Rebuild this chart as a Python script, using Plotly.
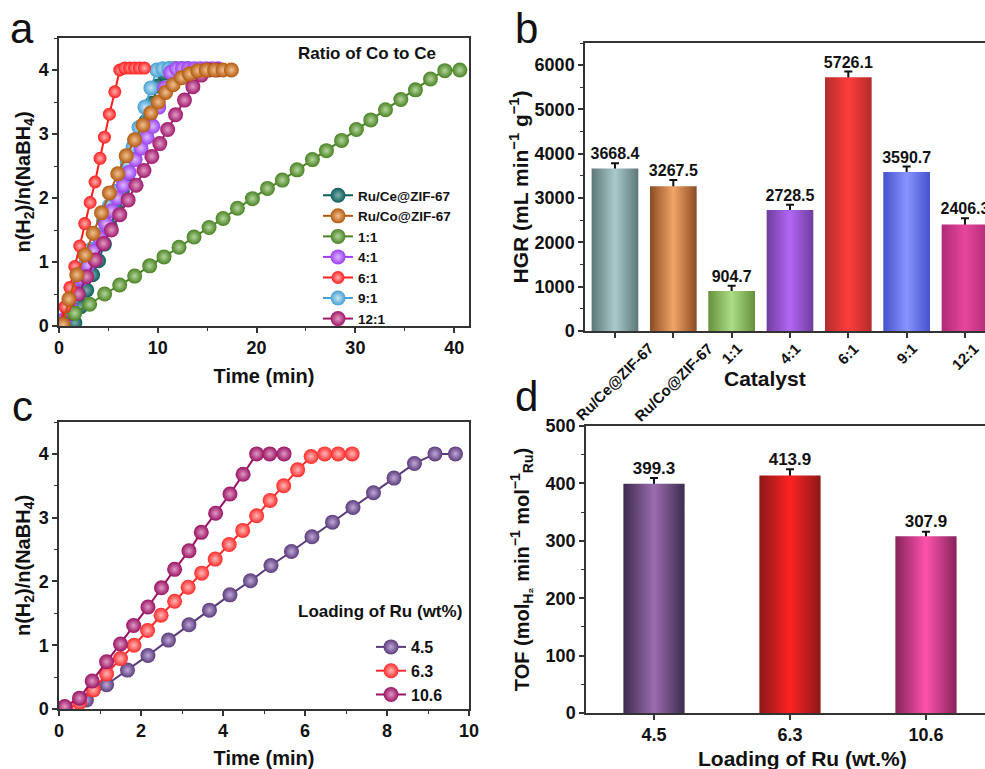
import plotly.graph_objects as go

# ---------------- Panel a data (Ratio of Co to Ce) ----------------
ce_t = [1.0, 1.6, 2.2, 2.8, 3.4, 4.0, 4.6, 5.2, 5.8, 6.4, 7.0, 7.6, 8.2, 8.8, 9.4, 10.0, 10.6, 11.2, 11.8, 12.4, 13.0]
ce_v = [0.0, 0.05, 0.3, 0.56, 0.8, 1.02, 1.28, 1.55, 1.82, 2.1, 2.38, 2.65, 2.92, 3.2, 3.48, 3.75, 3.95, 4.02, 4.02, 4.02, 4.02]

co_t = [0.4, 1.0, 1.8, 2.65, 3.45, 4.3, 5.1, 5.95, 6.8, 7.65, 8.5, 9.3, 10.05, 10.8, 11.55, 12.4, 13.2, 14.05, 14.9, 15.75, 16.6, 17.45]
co_v = [0.02, 0.42, 0.80, 1.11, 1.45, 1.77, 2.08, 2.38, 2.66, 2.91, 3.14, 3.33, 3.50, 3.65, 3.77, 3.88, 3.94, 3.99, 4.0, 4.0, 4.0, 4.0]

r11_t = [0.1, 1.59, 3.1, 4.62, 6.14, 7.66, 9.18, 10.63, 12.15, 13.67, 15.19, 16.61, 18.06, 19.58, 21.1, 22.6, 24.1, 25.65, 27.07, 28.6, 30.1, 31.56, 33.05, 34.6, 36.08, 37.6, 39.05, 40.57]
r11_v = [0.02, 0.20, 0.34, 0.50, 0.64, 0.78, 0.94, 1.08, 1.23, 1.39, 1.54, 1.68, 1.84, 1.99, 2.15, 2.28, 2.44, 2.60, 2.74, 2.90, 3.07, 3.22, 3.38, 3.54, 3.69, 3.86, 3.99, 4.0]

r41_t = [0.5, 1.1, 1.7, 2.3, 2.9, 3.5, 4.1, 4.7, 5.3, 5.9, 6.5, 7.1, 7.7, 8.3, 8.9, 9.5, 10.1, 10.7, 11.3, 11.9, 12.5, 13.1, 13.7, 14.3, 14.9, 15.5, 16.1]
r41_v = [0.1, 0.3, 0.52, 0.74, 0.95, 1.17, 1.38, 1.6, 1.8, 2.0, 2.2, 2.4, 2.6, 2.78, 2.95, 3.12, 3.42, 3.72, 3.96, 4.02, 4.02, 4.02, 4.02, 4.02, 4.02, 4.02, 4.02]

r61_t = [0.1, 0.6, 1.1, 1.6, 2.1, 2.6, 3.15, 3.65, 4.15, 4.6, 5.1, 5.65, 6.15, 6.65, 7.15, 7.65, 8.15, 8.65]
r61_v = [0.02, 0.30, 0.60, 0.93, 1.25, 1.60, 1.93, 2.25, 2.62, 2.95, 3.31, 3.66, 4.0, 4.03, 4.03, 4.03, 4.03, 4.03]

r91_t = [0.3, 0.9, 1.5, 2.1, 2.7, 3.3, 3.9, 4.5, 5.1, 5.7, 6.3, 6.9, 7.5, 8.1, 8.7, 9.3, 9.9, 10.5, 11.1, 11.7]
r91_v = [0.05, 0.25, 0.47, 0.72, 0.97, 1.2, 1.42, 1.65, 1.88, 2.1, 2.33, 2.55, 2.8, 3.1, 3.42, 3.72, 4.0, 4.02, 4.02, 4.02]

r121_t = [0.3, 1.1, 1.95, 2.8, 3.65, 4.5, 5.3, 6.15, 7.0, 7.8, 8.6, 9.4, 10.2, 11.0, 11.8, 12.7, 13.55, 14.4, 15.2, 16.0]
r121_v = [0.02, 0.2, 0.5, 0.77, 1.03, 1.29, 1.5, 1.74, 1.97, 2.2, 2.43, 2.65, 2.85, 3.07, 3.3, 3.53, 3.74, 3.92, 4.0, 4.0]

# ---------------- Panel b data (HGR) ----------------
b_cats = ["Ru/Ce@ZIF-67", "Ru/Co@ZIF-67", "1:1", "4:1", "6:1", "9:1", "12:1"]
b_vals = [3668.4, 3267.5, 904.7, 2728.5, 5726.1, 3590.7, 2406.3]
b_errs = [120, 143, 117, 120, 130, 120, 140]

# ---------------- Panel c data (Loading of Ru) ----------------
l45_t = [0.17, 0.67, 1.16, 1.67, 2.17, 2.67, 3.17, 3.67, 4.17, 4.67, 5.17, 5.67, 6.17, 6.67, 7.17, 7.67, 8.17, 8.67, 9.17, 9.67]
l45_v = [0.0, 0.14, 0.38, 0.61, 0.84, 1.08, 1.32, 1.55, 1.79, 2.01, 2.25, 2.47, 2.70, 2.93, 3.16, 3.39, 3.62, 3.85, 4.0, 4.0]

l63_t = [0.17, 0.5, 0.84, 1.16, 1.5, 1.83, 2.16, 2.49, 2.82, 3.15, 3.48, 3.81, 4.15, 4.48, 4.82, 5.15, 5.48, 5.82, 6.15, 6.48, 6.81, 7.15]
l63_v = [0.0, 0.1, 0.3, 0.55, 0.79, 1.0, 1.23, 1.47, 1.69, 1.91, 2.13, 2.35, 2.58, 2.80, 3.03, 3.27, 3.5, 3.75, 3.96, 4.0, 4.0, 4.0]

l106_t = [0.14, 0.5, 0.81, 1.16, 1.5, 1.82, 2.17, 2.5, 2.82, 3.17, 3.47, 3.82, 4.17, 4.49, 4.82, 5.14, 5.49]
l106_v = [0.04, 0.17, 0.44, 0.74, 1.02, 1.31, 1.60, 1.90, 2.19, 2.48, 2.77, 3.07, 3.37, 3.68, 4.0, 4.0, 4.0]

# ---------------- Panel d data (TOF) ----------------
d_cats = ["4.5", "6.3", "10.6"]
d_vals = [399.3, 413.9, 307.9]
d_errs = [10, 10.7, 8]

FONT = "Arial, 'Liberation Sans', sans-serif"
W, H = 985, 769

def px_x(p):
    return p / W

def px_y(p):
    return 1 - p / H

fig = go.Figure()

def ball_trace(t, v, name, color, light, xa, ya, legend, size=14, lw=2, rank=None):
    return go.Scatter(
        x=t, y=v, name=name, mode="lines+markers",
        xaxis=xa, yaxis=ya, legend=legend,
        line=dict(color=color, width=lw),
        marker=dict(size=size, color=color, line=dict(width=0),
                    gradient=dict(type="radial", color=light)),
        legendrank=rank,
    )

# Panel a traces (draw order differs from legend order)
a_series = [
    (ce_t, ce_v, "Ru/Ce@ZIF-67", "#0d5b5b", "#7fb0b0", 1, 15),
    (r91_t, r91_v, "9:1", "#47a0d2", "#c8e6f6", 6, 15),
    (r41_t, r41_v, "4:1", "#9b3ff2", "#dcb8ff", 4, 15),
    (r121_t, r121_v, "12:1", "#a0176a", "#e09cc4", 7, 15),
    (r11_t, r11_v, "1:1", "#4a8223", "#b4d69c", 3, 15),
    (r61_t, r61_v, "6:1", "#ff1e1e", "#ffb0b0", 5, 13),
    (co_t, co_v, "Ru/Co@ZIF-67", "#b35a0e", "#f0c090", 2, 15),
]
for t, v, nm, c, lc, rk, sz in a_series:
    fig.add_trace(ball_trace(t, v, nm, c, lc, "x", "y", "legend", size=sz, rank=rk))

# Panel c traces
c_series = [
    (l45_t, l45_v, "4.5", "#5a3b7a", "#c0a8d8"),
    (l63_t, l63_v, "6.3", "#ff2a2a", "#ffb8b8"),
    (l106_t, l106_v, "10.6", "#9a1262", "#e09ac4"),
]
for i, (t, v, nm, c, lc) in enumerate(c_series):
    fig.add_trace(ball_trace(t, v, nm, c, lc, "x3", "y3", "legend2", size=15, rank=i + 1))

# Gradient bars helper
def gradient_bars(vals, width, edges, centers, xa, ya):
    for i, v in enumerate(vals):
        x0, x1 = i - width / 2, i + width / 2
        fig.add_trace(go.Scatter(
            x=[x0, x0, x1, x1, x0], y=[0, v, v, 0, 0],
            mode="lines", fill="toself", line=dict(width=0, color=edges[i]),
            fillgradient=dict(type="horizontal", start=x0, stop=x1,
                              colorscale=[[0, edges[i]], [0.5, centers[i]], [1, edges[i]]]),
            xaxis=xa, yaxis=ya, showlegend=False, hoverinfo="skip",
        ))

b_edges = ["#5d7778", "#8a4c24", "#66903c", "#6e3e9e", "#b32c2c", "#4452cc", "#b02a78"]
b_centers = ["#a9cacb", "#f2a466", "#abde86", "#b266f5", "#ff3c3c", "#8894ff", "#e6469c"]
gradient_bars(b_vals, 0.8, b_edges, b_centers, "x2", "y2")
b_idx = list(range(len(b_cats)))
fig.add_trace(go.Bar(
    x=b_idx, y=b_vals, width=0.8, xaxis="x2", yaxis="y2", showlegend=False,
    marker=dict(color="rgba(0,0,0,0)", line=dict(width=0)),
    error_y=dict(type="data", array=b_errs, color="#111", thickness=2, width=4),
))
fig.add_trace(go.Scatter(
    x=b_idx, y=[v + e for v, e in zip(b_vals, b_errs)],
    text=[f"{v:.1f}" for v in b_vals], mode="text", textposition="top center",
    textfont=dict(size=16, color="#111", family=FONT, weight="bold"),
    xaxis="x2", yaxis="y2", showlegend=False, hoverinfo="skip",
))

d_edges = ["#3c2c4e", "#8c1818", "#86245a"]
d_centers = ["#9c6cb0", "#ff2222", "#ff52ab"]
gradient_bars(d_vals, 0.45, d_edges, d_centers, "x4", "y4")
d_idx = list(range(len(d_cats)))
fig.add_trace(go.Bar(
    x=d_idx, y=d_vals, width=0.45, xaxis="x4", yaxis="y4", showlegend=False,
    marker=dict(color="rgba(0,0,0,0)", line=dict(width=0)),
    error_y=dict(type="data", array=d_errs, color="#111", thickness=2, width=4),
))
fig.add_trace(go.Scatter(
    x=d_idx, y=[v + e for v, e in zip(d_vals, d_errs)],
    text=[f"{v:.1f}" for v in d_vals], mode="text", textposition="top center",
    textfont=dict(size=17, color="#111", family=FONT, weight="bold"),
    xaxis="x4", yaxis="y4", showlegend=False, hoverinfo="skip",
))

axis_common = dict(
    showline=True, linecolor="#333", linewidth=1.5, ticks="outside", ticklen=5,
    tickwidth=1.5, tickcolor="#333", showgrid=False, zeroline=False, automargin=False,
    tickfont=dict(size=18, color="#111", family=FONT, weight="bold"),
)
title_font = dict(size=20, color="#111", family=FONT, weight="bold")

def minor(d):
    return dict(ticks="outside", ticklen=3, tickwidth=1.2, tickcolor="#333", dtick=d, showgrid=False)

fig.update_layout(
    template="none",
    width=W, height=H, margin=dict(l=0, r=0, t=0, b=0, autoexpand=False),
    paper_bgcolor="white", plot_bgcolor="white",
    font=dict(family=FONT, color="#111", weight="bold"),
    xaxis=dict(axis_common, domain=[px_x(59), px_x(469)], range=[0, 41.5], dtick=10,
               minor=minor(5), mirror=True, anchor="y",
               title=dict(text="Time (min)", font=title_font, standoff=12)),
    yaxis=dict(axis_common, domain=[px_y(326), px_y(38)], range=[0, 4.5], dtick=1,
               minor=minor(0.5), mirror=True, anchor="x",
               title=dict(text="n(H<sub>2</sub>)/n(NaBH<sub>4</sub>)", font=title_font, standoff=3)),
    xaxis2=dict(axis_common, domain=[px_x(585), 1.0], range=[-0.514, 6.343],
                tickvals=b_idx, showticklabels=False, mirror=True, anchor="y2"),
    yaxis2=dict(axis_common, domain=[px_y(331), px_y(43)], range=[0, 6500], dtick=1000,
                minor=minor(500), anchor="x2",
                title=dict(text="HGR (mL min<sup>−1</sup> g<sup>−1</sup>)", font=dict(title_font, size=21), standoff=0)),
    xaxis3=dict(axis_common, domain=[px_x(59), px_x(469)], range=[0, 10], dtick=2,
                minor=minor(1), mirror=True, anchor="y3",
                title=dict(text="Time (min)", font=title_font, standoff=12)),
    yaxis3=dict(axis_common, domain=[px_y(709), px_y(422)], range=[0, 4.5], dtick=1,
                minor=minor(0.5), mirror=True, anchor="x3",
                title=dict(text="n(H<sub>2</sub>)/n(NaBH<sub>4</sub>)", font=title_font, standoff=3)),
    xaxis4=dict(axis_common, domain=[px_x(586), 1.0], range=[-0.5, 2.434],
                tickvals=d_idx, ticktext=d_cats, mirror=True, anchor="y4"),
    yaxis4=dict(axis_common, domain=[px_y(713), px_y(426)], range=[0, 500], dtick=100,
                minor=minor(50), anchor="x4",
                title=dict(text="TOF (mol<sub>H₂</sub> min<sup>−1</sup> mol<sup>−1</sup><sub>Ru</sub>)",
                           font=title_font, standoff=11)),
    legend=dict(x=px_x(318), y=px_y(180), xanchor="left", yanchor="top",
                bgcolor="rgba(0,0,0,0)", font=dict(size=13.5, color="#111", family=FONT, weight="bold"),
                traceorder="normal", itemsizing="trace"),
    legend2=dict(x=px_x(371), y=px_y(630), xanchor="left", yanchor="top",
                 bgcolor="rgba(0,0,0,0)", font=dict(size=16, color="#111", family=FONT, weight="bold"),
                 traceorder="normal", itemsizing="trace"),
    showlegend=True,
)

# rotated category labels for panel b (centered under each tick)
for i, cat in enumerate(b_cats):
    fig.add_annotation(text=cat, x=i, y=px_y(337), xref="x2", yref="paper",
                       xanchor="center", yanchor="top", textangle=-45, showarrow=False,
                       font=dict(size=15, color="#111", family=FONT, weight="bold"))

ann = [
    dict(text="Ratio of Co to Ce", x=px_x(367), y=px_y(53), size=17),
    dict(text="Loading of Ru (wt%)", x=px_x(380), y=px_y(611), size=17),
    dict(text="Catalyst", x=px_x(765), y=px_y(378), size=21),
    dict(text="Loading of Ru (wt.%)", x=px_x(802), y=px_y(758), size=21),
]
for a in ann:
    fig.add_annotation(text=a["text"], x=a["x"], y=a["y"], xref="paper", yref="paper",
                       xanchor="center", yanchor="middle", showarrow=False,
                       font=dict(size=a["size"], color="#111", family=FONT, weight="bold"))

letters = [("a", 22, 28), ("b", 526, 28), ("c", 22, 406), ("d", 526, 396)]
for s, x, y in letters:
    fig.add_annotation(text=s, x=px_x(x), y=px_y(y), xref="paper", yref="paper",
                       xanchor="center", yanchor="middle", showarrow=False,
                       font=dict(size=42, color="#111", family=FONT, weight="normal"))

fig.write_html("out.html")
